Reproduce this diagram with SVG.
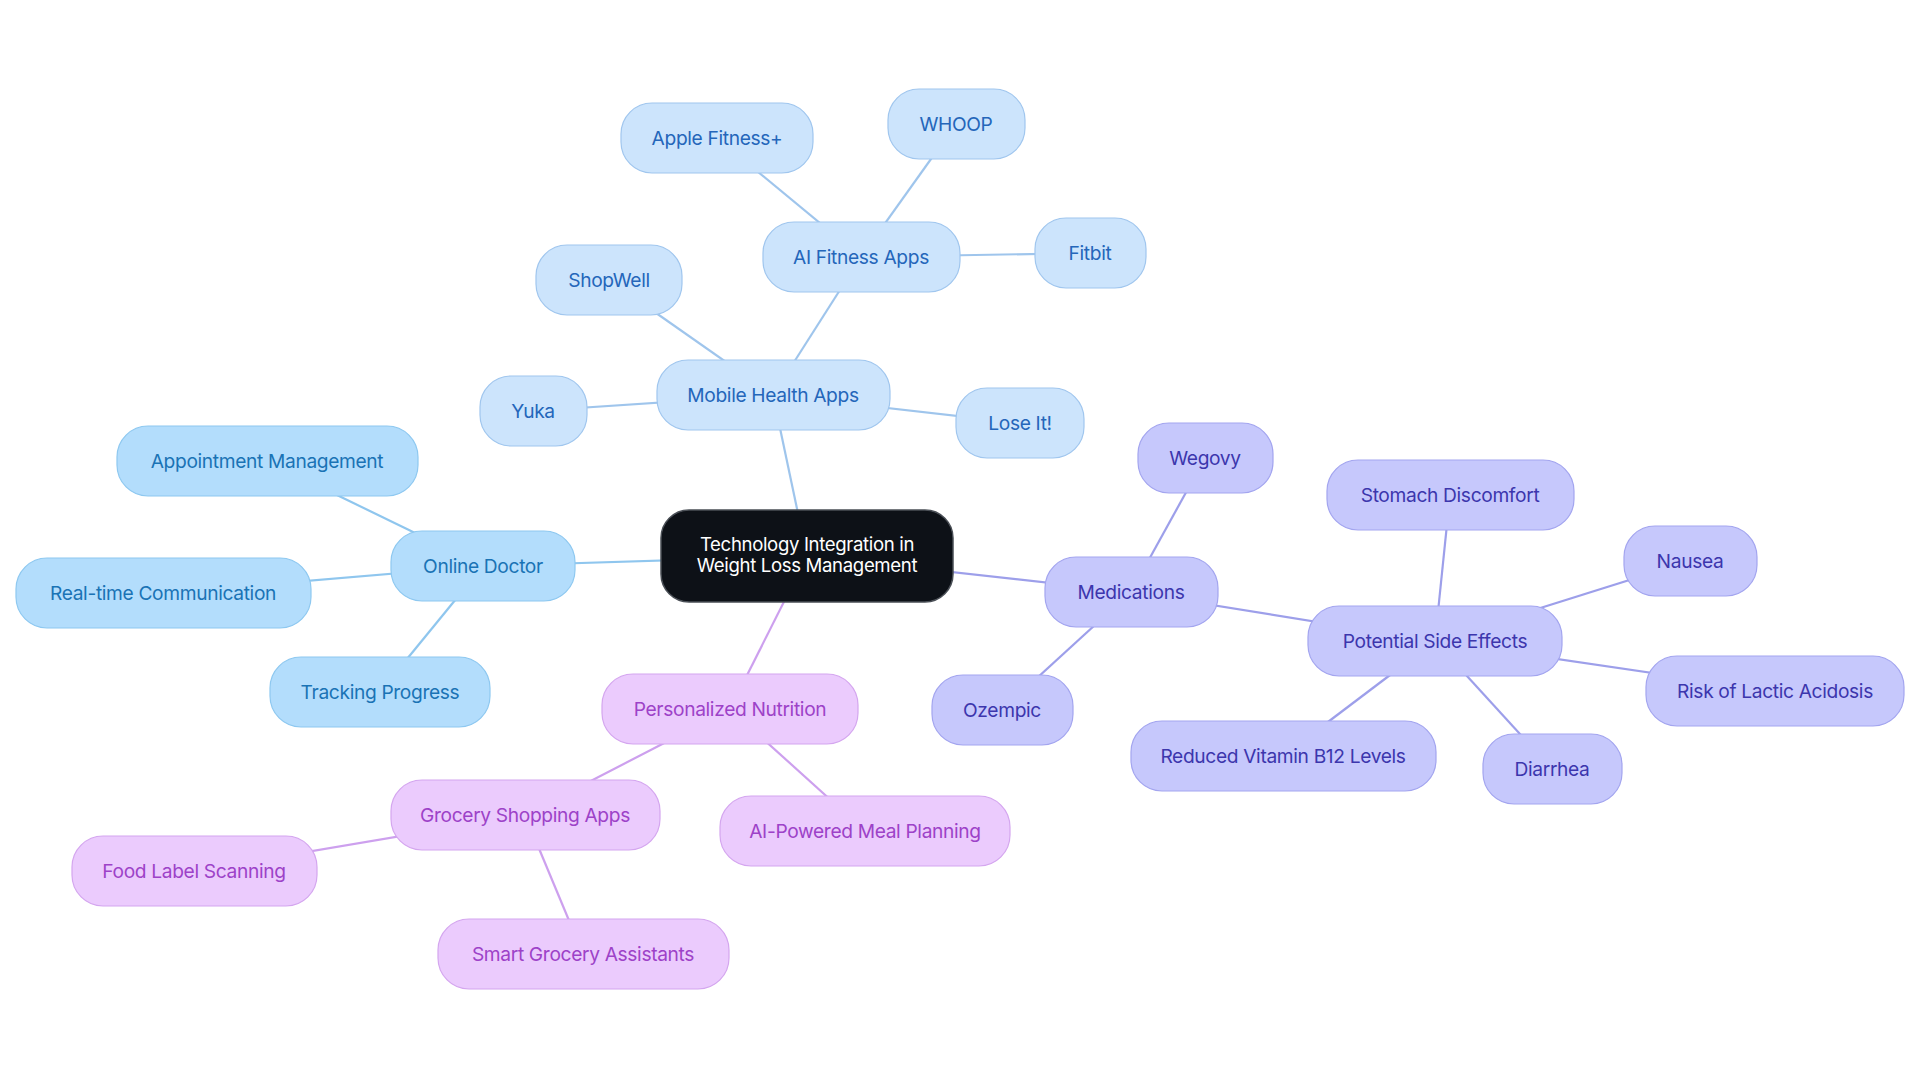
<svg xmlns="http://www.w3.org/2000/svg" width="1920" height="1083" viewBox="0 0 1920 1083">
<style>
text{font-family:Inter,"Noto Sans","Liberation Sans",sans-serif;font-size:19.2px;letter-spacing:-0.35px;text-anchor:middle}
.c rect{fill:#0d1117;stroke:#4a4f56;stroke-width:1.5}
.c text{fill:#ffffff;font-size:18.6px}
.od rect{fill:#b3ddfc;stroke:#8ec8f0;stroke-width:1.2}
.od text{fill:#1a73b5}
.mh rect{fill:#cce4fc;stroke:#a0c6ee;stroke-width:1.2}
.mh text{fill:#2466ba}
.md rect{fill:#c6c8fc;stroke:#a3a5ef;stroke-width:1.2}
.md text{fill:#3c36ad}
.pn rect{fill:#ebcbfd;stroke:#d4a6ef;stroke-width:1.2}
.pn text{fill:#9d42c8}
#edges line{stroke-width:2.2;fill:none}
.eod{stroke:#8fc6ee}
.emh{stroke:#9fc5ec}
.emd{stroke:#9d9fea}
.epn{stroke:#cda0ee}
</style>
<rect width="1920" height="1083" fill="#ffffff"/>
<g id="edges">
<line class="eod" x1="807" y1="556" x2="483" y2="566"/>
<line class="eod" x1="483" y1="566" x2="267" y2="461"/>
<line class="eod" x1="483" y1="566" x2="163" y2="593"/>
<line class="eod" x1="483" y1="566" x2="380" y2="692"/>
<line class="emh" x1="807" y1="556" x2="773" y2="395"/>
<line class="emh" x1="773" y1="395" x2="533" y2="411"/>
<line class="emh" x1="773" y1="395" x2="609" y2="280"/>
<line class="emh" x1="773" y1="395" x2="1020" y2="423"/>
<line class="emh" x1="773" y1="395" x2="861" y2="257"/>
<line class="emh" x1="861" y1="257" x2="717" y2="138"/>
<line class="emh" x1="861" y1="257" x2="956" y2="124"/>
<line class="emh" x1="861" y1="257" x2="1090" y2="253"/>
<line class="emd" x1="807" y1="556" x2="1131" y2="592"/>
<line class="emd" x1="1131" y1="592" x2="1205" y2="458"/>
<line class="emd" x1="1131" y1="592" x2="1002" y2="710"/>
<line class="emd" x1="1131" y1="592" x2="1435" y2="641"/>
<line class="emd" x1="1435" y1="641" x2="1450" y2="495"/>
<line class="emd" x1="1435" y1="641" x2="1690" y2="561"/>
<line class="emd" x1="1435" y1="641" x2="1775" y2="691"/>
<line class="emd" x1="1435" y1="641" x2="1552" y2="769"/>
<line class="emd" x1="1435" y1="641" x2="1283" y2="756"/>
<line class="epn" x1="807" y1="556" x2="730" y2="709"/>
<line class="epn" x1="730" y1="709" x2="525" y2="815"/>
<line class="epn" x1="730" y1="709" x2="865" y2="831"/>
<line class="epn" x1="525" y1="815" x2="194" y2="871"/>
<line class="epn" x1="525" y1="815" x2="583" y2="954"/>
</g>
<g id="n-root" class="c"><rect x="661" y="510" width="292" height="92" rx="28"/><text x="807" y="551">Technology Integration in</text><text x="807" y="572">Weight Loss Management</text></g>
<g id="n-online-doctor" class="od"><rect x="391" y="531" width="184" height="70" rx="31"/><text x="483" y="573">Online Doctor</text></g>
<g id="n-appointment" class="od"><rect x="117" y="426" width="301" height="70" rx="31"/><text x="267" y="468">Appointment Management</text></g>
<g id="n-realtime" class="od"><rect x="16" y="558" width="295" height="70" rx="31"/><text x="163" y="600">Real-time Communication</text></g>
<g id="n-tracking" class="od"><rect x="270" y="657" width="220" height="70" rx="31"/><text x="380" y="699">Tracking Progress</text></g>
<g id="n-mobile" class="mh"><rect x="657" y="360" width="233" height="70" rx="31"/><text x="773" y="402">Mobile Health Apps</text></g>
<g id="n-yuka" class="mh"><rect x="480" y="376" width="107" height="70" rx="31"/><text x="533" y="418">Yuka</text></g>
<g id="n-shopwell" class="mh"><rect x="536" y="245" width="146" height="70" rx="31"/><text x="609" y="287">ShopWell</text></g>
<g id="n-aifitness" class="mh"><rect x="763" y="222" width="197" height="70" rx="31"/><text x="861" y="264">AI Fitness Apps</text></g>
<g id="n-apple" class="mh"><rect x="621" y="103" width="192" height="70" rx="31"/><text x="717" y="145">Apple Fitness+</text></g>
<g id="n-whoop" class="mh"><rect x="888" y="89" width="137" height="70" rx="31"/><text x="956" y="131">WHOOP</text></g>
<g id="n-fitbit" class="mh"><rect x="1035" y="218" width="111" height="70" rx="31"/><text x="1090" y="260">Fitbit</text></g>
<g id="n-loseit" class="mh"><rect x="956" y="388" width="128" height="70" rx="31"/><text x="1020" y="430">Lose It!</text></g>
<g id="n-medications" class="md"><rect x="1045" y="557" width="173" height="70" rx="31"/><text x="1131" y="599">Medications</text></g>
<g id="n-wegovy" class="md"><rect x="1138" y="423" width="135" height="70" rx="31"/><text x="1205" y="465">Wegovy</text></g>
<g id="n-ozempic" class="md"><rect x="932" y="675" width="141" height="70" rx="31"/><text x="1002" y="717">Ozempic</text></g>
<g id="n-side-effects" class="md"><rect x="1308" y="606" width="254" height="70" rx="31"/><text x="1435" y="648">Potential Side Effects</text></g>
<g id="n-stomach" class="md"><rect x="1327" y="460" width="247" height="70" rx="31"/><text x="1450" y="502">Stomach Discomfort</text></g>
<g id="n-nausea" class="md"><rect x="1624" y="526" width="133" height="70" rx="31"/><text x="1690" y="568">Nausea</text></g>
<g id="n-lactic" class="md"><rect x="1646" y="656" width="258" height="70" rx="31"/><text x="1775" y="698">Risk of Lactic Acidosis</text></g>
<g id="n-diarrhea" class="md"><rect x="1483" y="734" width="139" height="70" rx="31"/><text x="1552" y="776">Diarrhea</text></g>
<g id="n-b12" class="md"><rect x="1131" y="721" width="305" height="70" rx="31"/><text x="1283" y="763">Reduced Vitamin B12 Levels</text></g>
<g id="n-nutrition" class="pn"><rect x="602" y="674" width="256" height="70" rx="31"/><text x="730" y="716">Personalized Nutrition</text></g>
<g id="n-grocery" class="pn"><rect x="391" y="780" width="269" height="70" rx="31"/><text x="525" y="822">Grocery Shopping Apps</text></g>
<g id="n-meal" class="pn"><rect x="720" y="796" width="290" height="70" rx="31"/><text x="865" y="838">AI-Powered Meal Planning</text></g>
<g id="n-foodlabel" class="pn"><rect x="72" y="836" width="245" height="70" rx="31"/><text x="194" y="878">Food Label Scanning</text></g>
<g id="n-smart" class="pn"><rect x="438" y="919" width="291" height="70" rx="31"/><text x="583" y="961">Smart Grocery Assistants</text></g>
</svg>
